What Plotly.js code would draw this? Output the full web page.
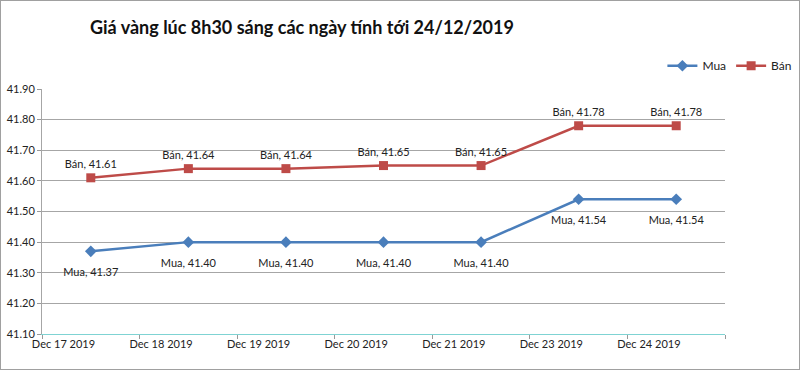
<!DOCTYPE html>
<html><head><meta charset="utf-8">
<script src="https://cdn.plot.ly/plotly-3.0.1.min.js"></script>
<style>
body{margin:0;padding:0;background:#fff;}
#wrap{position:relative;width:800px;height:370px;}
#chart{position:absolute;left:0;top:0;width:800px;height:370px;}
#frame{position:absolute;left:0;top:0;width:800px;height:370px;box-sizing:border-box;border:1px solid #a0a0a0;pointer-events:none;}
</style>
</head><body>
<div id="wrap"><div id="chart"></div><div id="frame"></div></div>
<script>
const dates = ["Dec 17 2019","Dec 18 2019","Dec 19 2019","Dec 20 2019","Dec 21 2019","Dec 23 2019","Dec 24 2019"];
const mua = [41.37, 41.40, 41.40, 41.40, 41.40, 41.54, 41.54];
const ban = [41.61, 41.64, 41.64, 41.65, 41.65, 41.78, 41.78];
const yTicks = [41.10, 41.20, 41.30, 41.40, 41.50, 41.60, 41.70, 41.80, 41.90];

const xs = dates.map((d, i) => i + 0.5);
const labelPos = dates.map((d, i) => i + 0.22);
const fontFam = 'Lato, "Open Sans", sans-serif';

const traces = [
  {
    x: xs, y: mua, name: 'Mua', mode: 'lines+markers',
    line: {color: '#4A7EBB', width: 2.5},
    marker: {symbol: 'diamond', size: 9, color: '#4A7EBB'}
  },
  {
    x: xs, y: ban, name: 'Bán', mode: 'lines+markers+text',
    line: {color: '#BE4B48', width: 2.5},
    marker: {symbol: 'square', size: 9, color: '#BE4B48'},
    text: ban.map(v => 'Bán, ' + v.toFixed(2)),
    textposition: 'top center',
    textfont: {family: fontFam, size: 11, color: '#222'},
    cliponaxis: false
  },
  {
    x: xs, y: mua, name: 'Mua labels', mode: 'markers+text', showlegend: false,
    marker: {symbol: 'circle', size: 25, color: 'rgba(0,0,0,0)'},
    text: mua.map(v => 'Mua, ' + v.toFixed(2)),
    textposition: 'bottom center',
    textfont: {family: fontFam, size: 11, color: '#222'},
    cliponaxis: false
  }
];

const layout = {
  width: 800, height: 370,
  margin: {l: 42, r: 75, t: 89, b: 36, autoexpand: false},
  paper_bgcolor: '#fff', plot_bgcolor: '#fff',
  font: {family: fontFam, size: 11, color: '#222'},
  title: {
    text: '<b>Giá vàng lúc 8h30 sáng các ngày tính tới 24/12/2019</b>',
    font: {family: fontFam, size: 18, color: '#111'},
    x: 90/800, xanchor: 'left', xref: 'container',
    y: 1 - 28/370, yanchor: 'middle', yref: 'container'
  },
  showlegend: true,
  legend: {
    orientation: 'h', x: 1.106, xanchor: 'right', y: 1.095, yanchor: 'middle',
    font: {family: fontFam, size: 12, color: '#222'},
    bgcolor: 'rgba(0,0,0,0)', itemwidth: 30, tracegroupgap: 0
  },
  xaxis: {
    range: [0, 7], fixedrange: true,
    tickmode: 'array', tickvals: labelPos, ticktext: dates,
    ticks: '', showgrid: false, zeroline: false,
    showline: true, linecolor: '#7fd3d3', linewidth: 1,
    tickfont: {family: fontFam, size: 11, color: '#222'},
    minor: {ticks: 'outside', tick0: 0, dtick: 1, ticklen: 4, tickcolor: '#999', showgrid: false}
  },
  yaxis: {
    range: [41.10, 41.90], fixedrange: true,
    tickmode: 'array', tickvals: yTicks, ticktext: yTicks.map(v => v.toFixed(2)),
    ticks: 'outside', ticklen: 4, tickcolor: '#999',
    showgrid: true, gridcolor: '#a6a6a6', gridwidth: 1,
    zeroline: false, showline: true, linecolor: '#a6a6a6',
    tickfont: {family: fontFam, size: 11, color: '#222'}
  }
};

Plotly.newPlot('chart', traces, layout, {displayModeBar: false, staticPlot: true});
</script>
</body></html>
